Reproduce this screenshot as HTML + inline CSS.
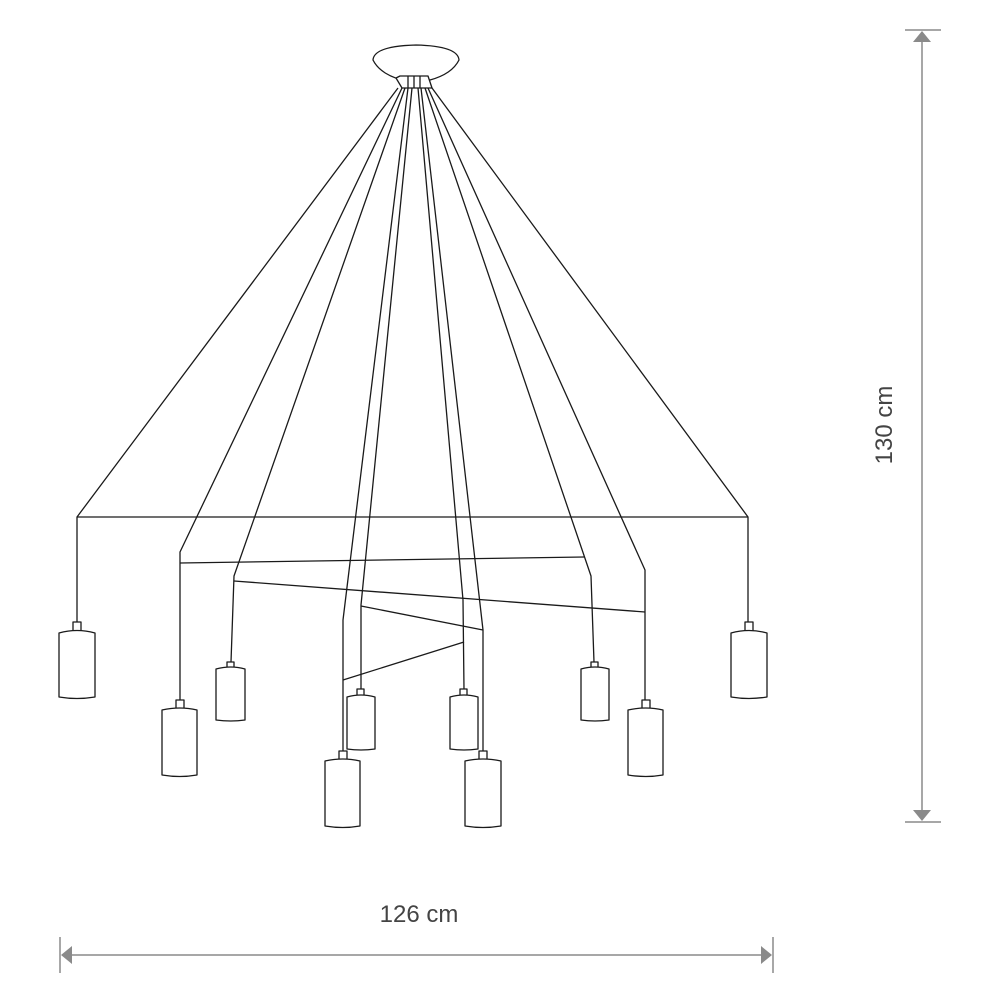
<!DOCTYPE html>
<html><head><style>html,body{margin:0;padding:0;background:#fff}svg{display:block}</style></head>
<body>
<svg width="1000" height="1000" viewBox="0 0 1000 1000" xmlns="http://www.w3.org/2000/svg">
<g fill="none" stroke="#1a1a1a" stroke-width="1.3" stroke-linejoin="round">
<!-- canopy -->
<path d="M373 60 Q374 46 416 45 Q458 46 459 60 Q452 74 430 80 L402 80 Q380 74 373 60 Z" fill="#fff"/>
<path d="M396 78 L402 88 L408 88 L408 76 L400 76 Z M408 76 L414 76 L414 88 L408 88 M414 76 L420 76 L420 88 L414 88 M420 76 L428 76 L432 88 L426 88 L420 88" fill="#fff"/>
<!-- cords -->
<polyline points="398,88 77,517 77,622"/>
<polyline points="402,88 180,552 180,700"/>
<polyline points="405,88 234,576 231,662"/>
<polyline points="408,88 343,620 343,752"/>
<polyline points="412,88 361,605 361,690"/>
<polyline points="418,88 463,600 464,690"/>
<polyline points="421,88 483,630 483,752"/>
<polyline points="425,88 591,576 594,662"/>
<polyline points="428,88 645,570 645,700"/>
<polyline points="432,88 748,517 748,622"/>
<!-- cross wires -->
<line x1="77" y1="517" x2="748" y2="517"/>
<line x1="180" y1="563" x2="584" y2="557"/>
<line x1="234" y1="581" x2="645" y2="612"/>
<line x1="361" y1="606" x2="483" y2="630"/>
<line x1="343" y1="680" x2="464" y2="642"/>
<!-- pendants -->
<g fill="#fff">
<rect x="73" y="622" width="8" height="12"/><path d="M59 633 Q77 628 95 633 L95 697 Q77 700 59 697 Z"/>
<rect x="176" y="700" width="8" height="12"/><path d="M162 710 Q180 706 197 710 L197 775 Q180 778 162 775 Z"/>
<rect x="227" y="662" width="7" height="9"/><path d="M216 669 Q231 665 245 669 L245 720 Q231 722 216 720 Z"/>
<rect x="339" y="751" width="8" height="12"/><path d="M325 761 Q343 757 360 761 L360 826 Q343 829 325 826 Z"/>
<rect x="357" y="689" width="7" height="10"/><path d="M347 697 Q361 693 375 697 L375 749 Q361 751 347 749 Z"/>
<rect x="460" y="689" width="7" height="10"/><path d="M450 697 Q464 693 478 697 L478 749 Q464 751 450 749 Z"/>
<rect x="479" y="751" width="8" height="12"/><path d="M465 761 Q483 757 501 761 L501 826 Q483 829 465 826 Z"/>
<rect x="591" y="662" width="7" height="9"/><path d="M581 669 Q595 665 609 669 L609 720 Q595 722 581 720 Z"/>
<rect x="642" y="700" width="8" height="12"/><path d="M628 710 Q646 706 663 710 L663 775 Q646 778 628 775 Z"/>
<rect x="745" y="622" width="8" height="12"/><path d="M731 633 Q749 628 767 633 L767 697 Q749 700 731 697 Z"/>
</g>
</g>
<!-- dimensions -->
<g stroke="#8a8a8a" stroke-width="1.5" fill="#8a8a8a">
<line x1="905" y1="30" x2="941" y2="30"/>
<line x1="905" y1="822" x2="941" y2="822"/>
<line x1="922" y1="32" x2="922" y2="820"/>
<polygon points="922,31 913,42 931,42" stroke="none"/>
<polygon points="922,821 913,810 931,810" stroke="none"/>
<line x1="60" y1="937" x2="60" y2="973"/>
<line x1="773" y1="937" x2="773" y2="973"/>
<line x1="62" y1="955" x2="771" y2="955"/>
<polygon points="61,955 72,946 72,964" stroke="none"/>
<polygon points="772,955 761,946 761,964" stroke="none"/>
</g>
<g font-family="Liberation Sans, sans-serif" font-size="24" fill="#444">
<text x="419" y="922" text-anchor="middle">126 cm</text>
<text transform="translate(892,425) rotate(-90)" text-anchor="middle">130 cm</text>
</g>
</svg>
</body></html>
